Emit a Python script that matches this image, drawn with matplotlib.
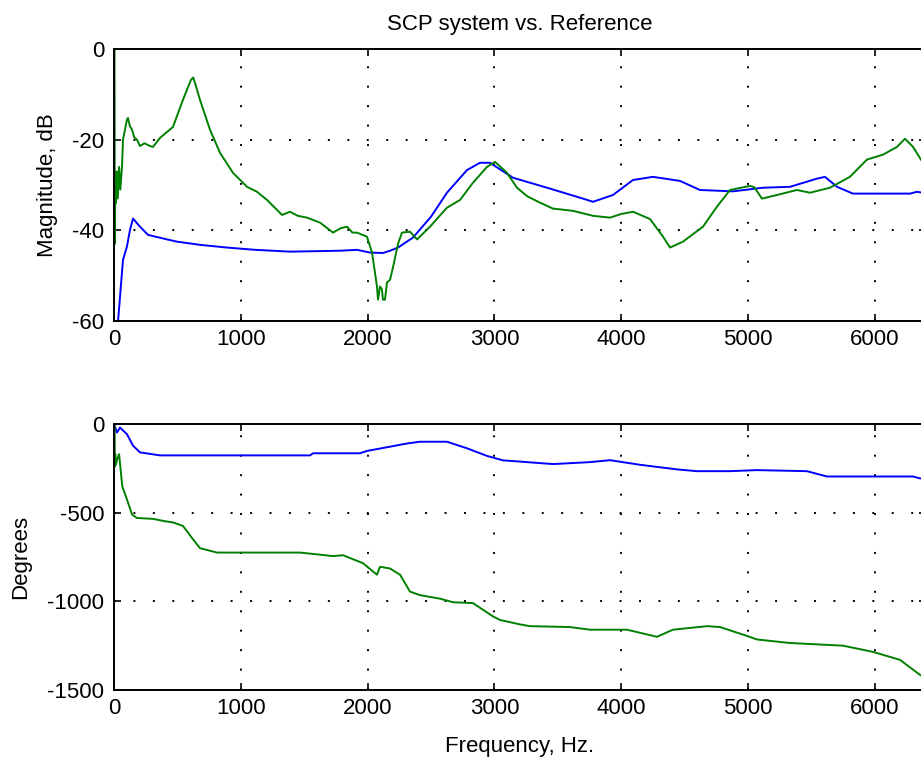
import numpy as np
import matplotlib
matplotlib.use("Agg")
import matplotlib.pyplot as plt

plt.rcParams['font.family'] = ['Liberation Sans', 'DejaVu Sans']
plt.rcParams['font.size'] = 16
plt.rcParams['axes.unicode_minus'] = False

# magnitude response, dB
mag_ref_f = [25, 32, 71, 102, 126, 150, 205, 268, 418, 497, 678, 891, 1112, 1388, 1782,
             1916, 2019, 2121, 2177, 2240, 2358, 2500, 2626, 2784, 2886, 2965, 3147, 3415,
             3675, 3778, 3935, 4093, 4250, 4464, 4621, 4882, 5118, 5331, 5544, 5607, 5702,
             5828, 6278, 6333, 6400]
mag_ref = [-65, -60, -46.5, -43.6, -39.9, -37.4, -39.2, -41, -42, -42.5, -43.2, -43.8,
           -44.3, -44.7, -44.5, -44.3, -44.9, -45, -44.5, -43.8, -41.6, -37, -31.7, -26.7,
           -25.1, -25.1, -28.4, -30.6, -32.8, -33.7, -32.2, -28.9, -28.2, -29.1, -31.1,
           -31.4, -30.6, -30.4, -28.6, -28.2, -30.4, -31.9, -31.9, -31.5, -31.8]

mag_scp_f = [4, 6, 10, 15, 20, 30, 40, 50, 63, 71, 102, 110, 125, 142, 160, 181, 205, 240,
             284, 308, 363, 465, 544, 607, 625, 639, 678, 757, 836, 938, 1049, 1128, 1207,
             1325, 1388, 1450, 1522, 1625, 1727, 1790, 1838, 1880, 1916, 1995, 2035, 2074,
             2082, 2098, 2113, 2121, 2137, 2153, 2177, 2200, 2240, 2271, 2334, 2390, 2492,
             2626, 2729, 2831, 2942, 3005, 3099, 3178, 3260, 3360, 3462, 3620, 3778, 3912,
             4000, 4093, 4227, 4330, 4385, 4487, 4645, 4755, 4858, 5016, 5050, 5110, 5229,
             5386, 5489, 5647, 5804, 5938, 6065, 6175, 6238, 6302, 6364, 6400]
mag_scp = [0, -43, -30, -34, -27, -33, -26, -31, -26, -20, -15.6, -15.2, -17, -17.8, -19.5,
           -20, -21.4, -20.8, -21.4, -21.6, -19.6, -17.2, -11.2, -6.8, -6.3, -7.5, -11.2,
           -17.8, -22.9, -27.3, -30.4, -31.5, -33.3, -36.6, -35.9, -36.8, -37.2, -38.3,
           -40.5, -39.5, -39.2, -40.5, -40.5, -41.4, -44.9, -52.4, -55.3, -52.4, -53, -55.3,
           -55.3, -51.5, -50.9, -48.2, -43, -40.5, -40.3, -42, -39.2, -35, -33.3, -29.5,
           -26, -24.9, -27.3, -30.6, -32.5, -33.9, -35.2, -35.7, -36.8, -37.2, -36.4,
           -35.9, -37.5, -41.4, -43.8, -42.5, -39.2, -34.8, -31.1, -30.2, -30.5, -33,
           -32.2, -31.1, -31.7, -30.6, -28.2, -24.4, -23.3, -21.6, -19.8, -21.6, -24.4, -26]

# phase response, degrees
ph_ref_f = [0, 24, 47, 102, 150, 205, 363, 1546, 1570, 1940, 1995, 2153, 2311, 2413, 2626,
            2784, 2942, 3068, 3202, 3462, 3754, 3912, 4148, 4440, 4598, 4858, 5071, 5465,
            5623, 6302, 6357, 6400]
ph_ref = [0, -48, -20, -57, -122, -160, -177, -177, -165, -165, -152, -131, -110, -100,
          -100, -137, -180, -205, -212, -226, -215, -204, -230, -256, -266, -266, -260,
          -266, -296, -296, -307, -307]

ph_scp_f = [0, 5, 7, 10, 15, 25, 40, 50, 65, 102, 142, 181, 308, 400, 465, 544, 623, 678,
            812, 1207, 1467, 1600, 1727, 1806, 1964, 2074, 2098, 2177, 2256, 2334, 2413,
            2571, 2673, 2831, 2989, 3044, 3202, 3281, 3596, 3754, 4046, 4282, 4408, 4677,
            4779, 4992, 5071, 5331, 5749, 5986, 6199, 6357, 6400]
ph_scp = [0, -10, -240, -170, -230, -200, -170, -240, -350, -425, -510, -530, -535, -548,
          -555, -575, -650, -700, -725, -725, -725, -735, -745, -740, -785, -850, -805,
          -815, -850, -945, -965, -985, -1005, -1010, -1085, -1105, -1130, -1140, -1145,
          -1160, -1160, -1200, -1160, -1140, -1145, -1195, -1215, -1235, -1250, -1285,
          -1330, -1415, -1430]

W, H = 921, 757
fig = plt.figure(figsize=(W / 100, H / 100), dpi=100)
left = 114 / W
width = 811.5 / W
ax1 = fig.add_axes([left, 1 - 321 / H, width, (321 - 49) / H])
ax2 = fig.add_axes([left, 1 - 690 / H, width, (690 - 424) / H])

blue = (0, 0, 1)
green = (0, 0.5, 0)
ax1.plot(mag_ref_f, mag_ref, color=blue, lw=1.4)
ax1.plot(mag_scp_f, mag_scp, color=green, lw=1.4)
ax2.plot(ph_ref_f, ph_ref, color=blue, lw=1.4)
ax2.plot(ph_scp_f, ph_scp, color=green, lw=1.4)

ax1.set_ylim(-60, 0)
ax1.set_yticks([-60, -40, -20, 0])
ax2.set_ylim(-1500, 0)
ax2.set_yticks([-1500, -1000, -500, 0])

for ax in (ax1, ax2):
    ax.set_xlim(0, 6400)
    ax.set_xticks(np.arange(0, 7000, 1000))
    ax.grid(True, color='black', linestyle=(0, (1, 9)), lw=1.4)
    ax.tick_params(direction='in', length=5, width=1.2, top=True, right=True,
                   labelsize=16)
    ax.tick_params(axis='y', pad=7)
    ax.tick_params(axis='x', pad=6)
    for s in ax.spines.values():
        s.set_linewidth(1.4)

ax1.set_title('SCP system vs. Reference', fontsize=16, pad=14)
ax1.set_ylabel('Magnitude, dB')
ax1.yaxis.set_label_coords(-0.069, 0.5)
ax2.set_ylabel('Degrees')
ax2.yaxis.set_label_coords(-0.102, 0.5)
ax2.set_xlabel('Frequency, Hz.', labelpad=12)

fig.savefig('out.png', dpi=100)
